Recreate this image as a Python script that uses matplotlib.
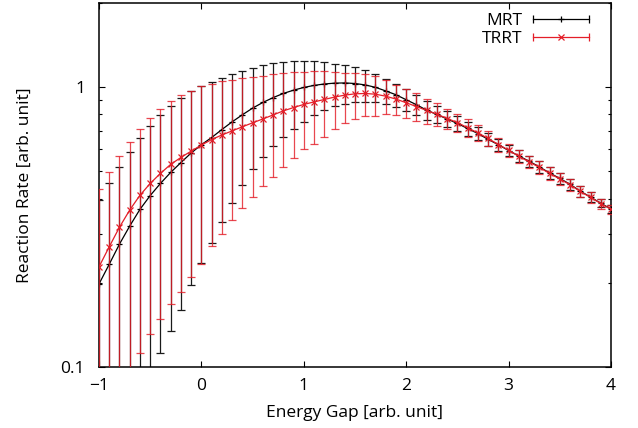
import matplotlib
matplotlib.use("Agg")
import matplotlib.pyplot as plt
from matplotlib.lines import Line2D
from matplotlib.legend_handler import HandlerBase
from matplotlib.ticker import LogLocator, NullFormatter, FixedLocator, FixedFormatter

plt.rcParams['font.family'] = ['Open Sans', 'DejaVu Sans']

energy = [-1.0, -0.9, -0.8, -0.7, -0.6, -0.5, -0.4, -0.3, -0.2, -0.1,
          0.0, 0.1, 0.2, 0.3, 0.4, 0.5, 0.6, 0.7, 0.8, 0.9,
          1.0, 1.1, 1.2, 1.3, 1.4, 1.5, 1.6, 1.7, 1.8, 1.9,
          2.0, 2.1, 2.2, 2.3, 2.4, 2.5, 2.6, 2.7, 2.8, 2.9,
          3.0, 3.1, 3.2, 3.3, 3.4, 3.5, 3.6, 3.7, 3.8, 3.9, 4.0]

mrt = [0.198, 0.233, 0.275, 0.319, 0.366, 0.410, 0.453, 0.496, 0.538, 0.582,
       0.623, 0.661, 0.706, 0.752, 0.797, 0.842, 0.882, 0.918, 0.950, 0.976,
       0.998, 1.015, 1.027, 1.034, 1.036, 1.031, 1.019, 0.999, 0.970, 0.940,
       0.902, 0.866, 0.828, 0.799, 0.770, 0.742, 0.712, 0.683, 0.651, 0.623,
       0.594, 0.568, 0.544, 0.519, 0.494, 0.472, 0.450, 0.425, 0.405, 0.385, 0.367]

mrt_err = [0.196, 0.220, 0.244, 0.268, 0.293, 0.317, 0.341, 0.362, 0.378, 0.385,
           0.387, 0.384, 0.377, 0.366, 0.350, 0.332, 0.318, 0.302, 0.285, 0.266,
           0.247, 0.222, 0.200, 0.178, 0.164, 0.148, 0.134, 0.115, 0.098, 0.090,
           0.083, 0.072, 0.065, 0.057, 0.050, 0.045, 0.040, 0.037, 0.034, 0.031,
           0.028, 0.027, 0.026, 0.025, 0.024, 0.022, 0.020, 0.019, 0.016, 0.013, 0.011]

trrt = [0.228, 0.269, 0.316, 0.364, 0.411, 0.453, 0.492, 0.530, 0.561, 0.591,
        0.621, 0.650, 0.675, 0.698, 0.722, 0.746, 0.770, 0.796, 0.823, 0.846,
        0.868, 0.886, 0.904, 0.922, 0.937, 0.947, 0.950, 0.944, 0.929, 0.907,
        0.880, 0.853, 0.826, 0.801, 0.773, 0.748, 0.716, 0.687, 0.656, 0.624,
        0.596, 0.566, 0.541, 0.517, 0.492, 0.470, 0.448, 0.424, 0.404, 0.384, 0.366]

trrt_err = [0.203, 0.230, 0.252, 0.274, 0.299, 0.322, 0.343, 0.362, 0.376, 0.382,
            0.388, 0.379, 0.377, 0.364, 0.353, 0.340, 0.325, 0.317, 0.305, 0.288,
            0.266, 0.257, 0.238, 0.214, 0.190, 0.175, 0.163, 0.155, 0.130, 0.114,
            0.105, 0.097, 0.085, 0.075, 0.066, 0.056, 0.051, 0.045, 0.041, 0.036,
            0.033, 0.030, 0.028, 0.027, 0.026, 0.024, 0.022, 0.020, 0.018, 0.016, 0.014]

series_names = ["MRT", "TRRT"]
x_ticks = [-1, 0, 1, 2, 3, 4]
y_ticks = [0.1, 1]
y_tick_labels = ["0.1", "1"]

BLACK = "#000000"
RED = "#e41e28"

fig = plt.figure(figsize=(6.38, 4.28), dpi=100)
ax = fig.add_axes([99/638, 1-367/428, 512/638, 364/428])
ax.set_yscale('log')

eb1 = ax.errorbar(energy, mrt, yerr=mrt_err, color=BLACK, ecolor="#1a1a1a",
                  elinewidth=0.9, capsize=2.6, capthick=0.9, lw=0.9,
                  marker='+', ms=5, mew=0.9, zorder=2)
eb2 = ax.errorbar(energy, trrt, yerr=trrt_err, color=RED, ecolor=RED,
                  elinewidth=0.9, capsize=2.6, capthick=0.9, lw=0.9,
                  marker='x', ms=5, mew=0.9, zorder=3)
for art in eb2[1] + eb2[2]:
    art.set_alpha(0.82)

ax.set_xlim(-1, 4)
ax.set_ylim(0.1, 2.0)

ax.xaxis.set_major_locator(FixedLocator(x_ticks))
ax.yaxis.set_major_locator(FixedLocator(y_ticks))
ax.yaxis.set_major_formatter(FixedFormatter(y_tick_labels))
ax.yaxis.set_minor_locator(LogLocator(base=10, subs=[2, 3, 4, 5, 6, 7, 8, 9]))
ax.yaxis.set_minor_formatter(NullFormatter())

ax.tick_params(which='both', direction='in', top=True, right=True, width=0.8, color='black')
ax.tick_params(which='major', length=4.5, labelsize=12.5)
ax.tick_params(which='minor', length=2.3)
ax.tick_params(axis='x', pad=8)
ax.tick_params(axis='y', pad=10)
for s in ax.spines.values():
    s.set_linewidth(1.1)

ax.set_xlabel("Energy Gap [arb. unit]", fontsize=12.5, labelpad=8)
ax.set_ylabel("Reaction Rate [arb. unit]", fontsize=12.5, labelpad=20)


class HandlerGnuErr(HandlerBase):
    def create_artists(self, legend, orig_handle, xdescent, ydescent, width, height, fontsize, trans):
        color, marker, ms = orig_handle
        y = height / 2 - ydescent
        x0, x1 = -xdescent, width - xdescent
        line = Line2D([x0, x1], [y, y], color=color, lw=0.9, transform=trans)
        caps = Line2D([x0, x1], [y, y], ls='none', marker='|', ms=6, mew=0.9, color=color, transform=trans)
        mk = Line2D([(x0 + x1) / 2], [y], ls='none', marker=marker, ms=ms, mew=0.9, color=color, transform=trans)
        return [line, caps, mk]


handles = [(BLACK, '+', 5), (RED, 'x', 5)]
leg = ax.legend(handles, series_names, handler_map={tuple: HandlerGnuErr()},
                loc='upper right', frameon=False, markerfirst=False, fontsize=12.5,
                handlelength=3.2, handletextpad=0.6, labelspacing=0.1,
                borderaxespad=0.15, bbox_to_anchor=(0.975, 1.0))

fig.savefig("out.png", dpi=100)
